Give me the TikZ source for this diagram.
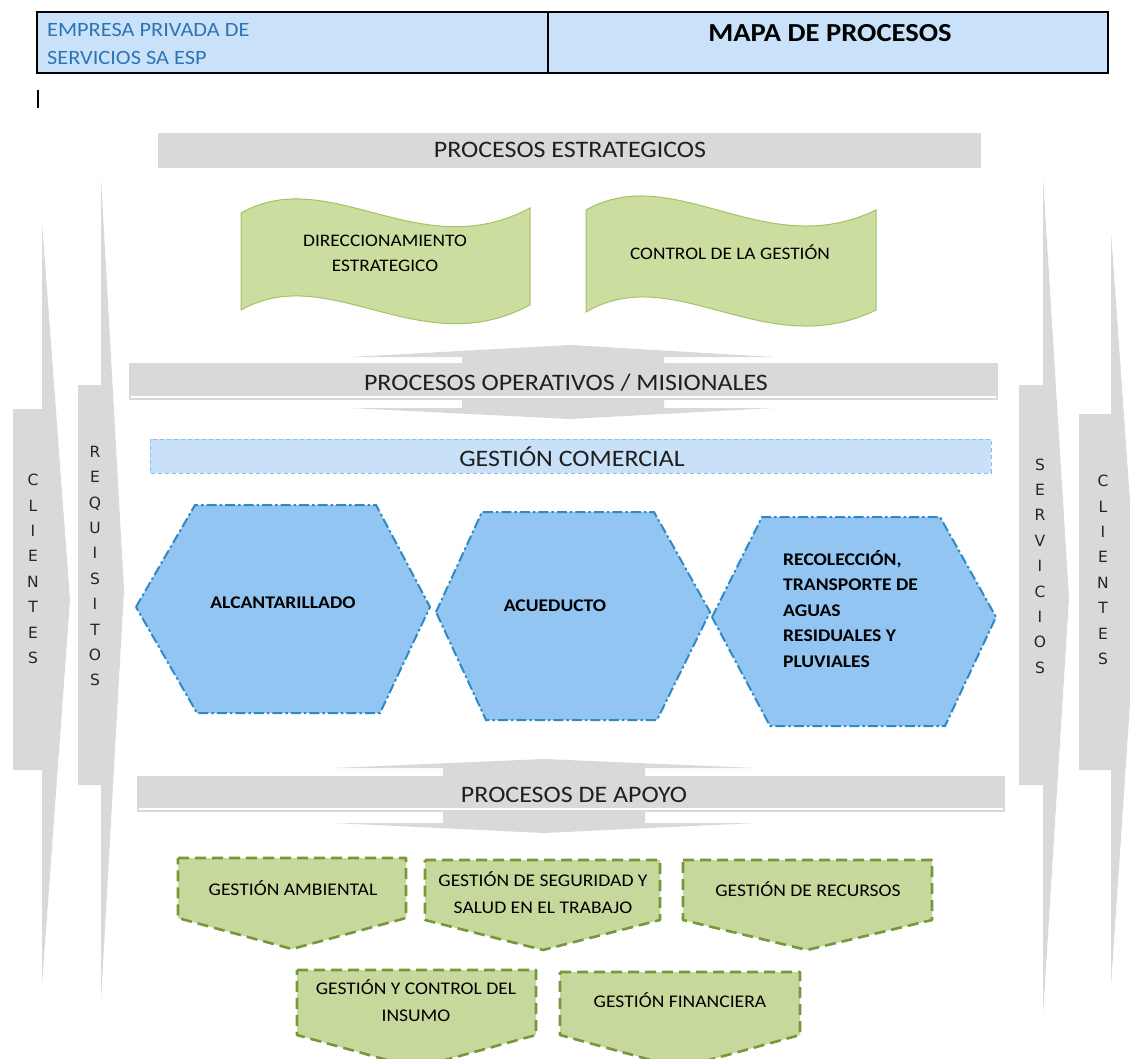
\documentclass[tikz,border=0pt]{standalone}
\usepackage{fontspec}
\setmainfont{Carlito}[FakeStretch=1.1]
\newfontfamily\lettersfont{DejaVu Sans}
\definecolor{hdrfill}{HTML}{C9E2F9}
\definecolor{hdrtext}{HTML}{2E74B5}
\definecolor{grayc}{HTML}{D9D9D9}
\definecolor{comfill}{HTML}{C8E1F8}
\definecolor{comline}{HTML}{8EBBEA}
\definecolor{hexfill}{HTML}{93C5F3}
\definecolor{hexline}{HTML}{2E8AC4}
\definecolor{wavefill}{HTML}{CCDDA0}
\definecolor{waveline}{HTML}{A5C266}
\definecolor{pentfill}{HTML}{C6D89C}
\definecolor{pentline}{HTML}{78963A}
\begin{document}
\begin{tikzpicture}[x=1pt,y=-1pt,
  graybar/.style={fill=grayc},
  bartext/.style={font=\fontsize{23.6}{28}\selectfont, text=black!88, inner sep=0},
  vletters/.style={font=\lettersfont\fontsize{15.5}{25.4}\selectfont, align=center, text=black!85, inner sep=0},
  wave/.style={fill=wavefill, draw=waveline, line width=1pt},
  wavetext/.style={font=\fontsize{17.6}{25}\selectfont, align=center, inner sep=0},
  hexa/.style={fill=hexfill, draw=hexline, line width=2pt, dash pattern=on 10pt off 3pt on 2.5pt off 3pt},
  hextext/.style={font=\bfseries\fontsize{17.8}{25.5}\selectfont, inner sep=0},
  pent/.style={fill=pentfill, draw=pentline, line width=2.6pt, dash pattern=on 11pt off 6pt, line join=round},
  penttext/.style={font=\fontsize{17.8}{27}\selectfont, align=center, inner sep=0}
]
\useasboundingbox (0,0) rectangle (1130,1059);
\clip (0,0) rectangle (1130,1059);
\fill[white] (0,0) rectangle (1130,1059);

% header
\draw[fill=hdrfill, line width=1.5pt] (37,12) rectangle (1108,73);
\draw[line width=1.2pt] (548,12) -- (548,73);
\node[anchor=west, inner sep=0, text=hdrtext, font=\fontsize{20.3}{24}\selectfont] (emp1) at (47,30) {EMPRESA PRIVADA DE};
\node[anchor=west, inner sep=0, text=hdrtext, font=\fontsize{20.3}{24}\selectfont] (emp2) at (47,58) {SERVICIOS SA ESP};
\node[inner sep=0, font=\bfseries\fontsize{26}{30}\selectfont] (title) at (830,33) {MAPA DE PROCESOS};
\draw[line width=1.3pt] (38,90) -- (38,108);

% side arrows
\fill[grayc] (13,409) -- (42,409) -- (42,222) -- (70,600) -- (42,985) -- (42,770) -- (13,770) -- cycle;
\fill[grayc] (78,385) -- (101,385) -- (101,178) -- (124,590) -- (101,1000) -- (101,785) -- (78,785) -- cycle;
\fill[grayc] (1019,385) -- (1043,385) -- (1043,178) -- (1069,598) -- (1043,1015) -- (1043,785) -- (1019,785) -- cycle;
\fill[grayc] (1079,414) -- (1111,414) -- (1111,232) -- (1137,600) -- (1111,985) -- (1111,770) -- (1079,770) -- cycle;
\node[vletters] (cli1) at (33,569) {C\\L\\I\\E\\N\\T\\E\\S};
\node[vletters] (req) at (95,566) {R\\E\\Q\\U\\I\\S\\I\\T\\O\\S};
\node[vletters] (serv) at (1040,566) {S\\E\\R\\V\\I\\C\\I\\O\\S};
\node[vletters] (cli2) at (1103,570) {C\\L\\I\\E\\N\\T\\E\\S};

% procesos estrategicos
\fill[graybar] (158,133) rectangle (981,168);
\node[bartext] (pest) at (570,150) {PROCESOS ESTRATEGICOS};

% waves
\path[wave] (241,213) .. controls (330,163) and (420,267) .. (530,208) -- (530,305) .. controls (420,364) and (330,260) .. (241,310) -- cycle;
\path[wave] (586,210) .. controls (675,160) and (765,264) .. (876,210) -- (876,310) .. controls (765,364) and (675,260) .. (586,312) -- cycle;
\node[wavetext] (dir) at (385,253) {DIRECCIONAMIENTO\\ESTRATEGICO};
\node[wavetext] (ctrl) at (730,252) {CONTROL DE LA GESTIÓN};

% procesos operativos
\fill[grayc] (570,345) -- (774,357) -- (664,357) -- (664,408) -- (774,408) -- (570,419) -- (350,408) -- (462,408) -- (462,357) -- (350,357) -- cycle;
\fill[graybar] (129,363) rectangle (998,400);
\draw[white, line width=1.2pt] (131,397) -- (996,397);
\node[bartext] (pop) at (566,383) {PROCESOS OPERATIVOS / MISIONALES};

% gestion comercial
\draw[fill=comfill, draw=comline, line width=1pt, dash pattern=on 4pt off 3pt] (150,439) rectangle (991,473);
\node[bartext] (gcom) at (572,457) {GESTIÓN COMERCIAL};

% hexagons
\path[hexa] (136,607) -- (195,505) -- (376,505) -- (430,607) -- (380,713) -- (197,713) -- cycle;
\path[hexa] (436,612) -- (482,512) -- (654,512) -- (710,612) -- (657,720) -- (486,720) -- cycle;
\path[hexa] (712,617) -- (762,517) -- (940,517) -- (996,617) -- (945,726) -- (770,726) -- cycle;
\draw[draw=hexline!45, line width=0.7pt, dash pattern=on 4pt off 2pt on 1pt off 2pt] (773,548) rectangle (935,718);
\node[hextext] (alc) at (283,603) {ALCANTARILLADO};
\node[hextext] (acu) at (555,606) {ACUEDUCTO};
\node[hextext, anchor=north west, align=left] (rec) at (783,550) {RECOLECCIÓN,\\TRANSPORTE DE\\AGUAS\\RESIDUALES Y\\PLUVIALES};

% procesos de apoyo
\fill[grayc] (544,759) -- (756,768) -- (645,768) -- (645,823) -- (756,823) -- (544,833) -- (333,823) -- (443,823) -- (443,768) -- (333,768) -- cycle;
\fill[graybar] (137,776) rectangle (1005,812);
\draw[white, line width=1.2pt] (139,809) -- (1003,809);
\node[bartext] (pap) at (574,795) {PROCESOS DE APOYO};

% pentagons
\path[pent] (178,858) -- (406,858) -- (406,918) -- (292,949) -- (178,918) -- cycle;
\path[pent] (425,860) -- (660,860) -- (660,920) -- (543,950) -- (425,920) -- cycle;
\path[pent] (683,860) -- (932,860) -- (932,920) -- (807,950) -- (683,920) -- cycle;
\path[pent] (297,970) -- (536,970) -- (536,1035) -- (416,1068) -- (297,1035) -- cycle;
\path[pent] (560,972) -- (800,972) -- (800,1035) -- (680,1068) -- (560,1035) -- cycle;
\node[penttext] (amb) at (293,888) {GESTIÓN AMBIENTAL};
\node[penttext] (seg) at (543,893) {GESTIÓN DE SEGURIDAD Y\\SALUD EN EL TRABAJO};
\node[penttext] (recur) at (808,889) {GESTIÓN DE RECURSOS};
\node[penttext] (ins) at (416,1001) {GESTIÓN Y CONTROL DEL\\INSUMO};
\node[penttext] (fin) at (680,1000) {GESTIÓN FINANCIERA};
\end{tikzpicture}
\end{document}
